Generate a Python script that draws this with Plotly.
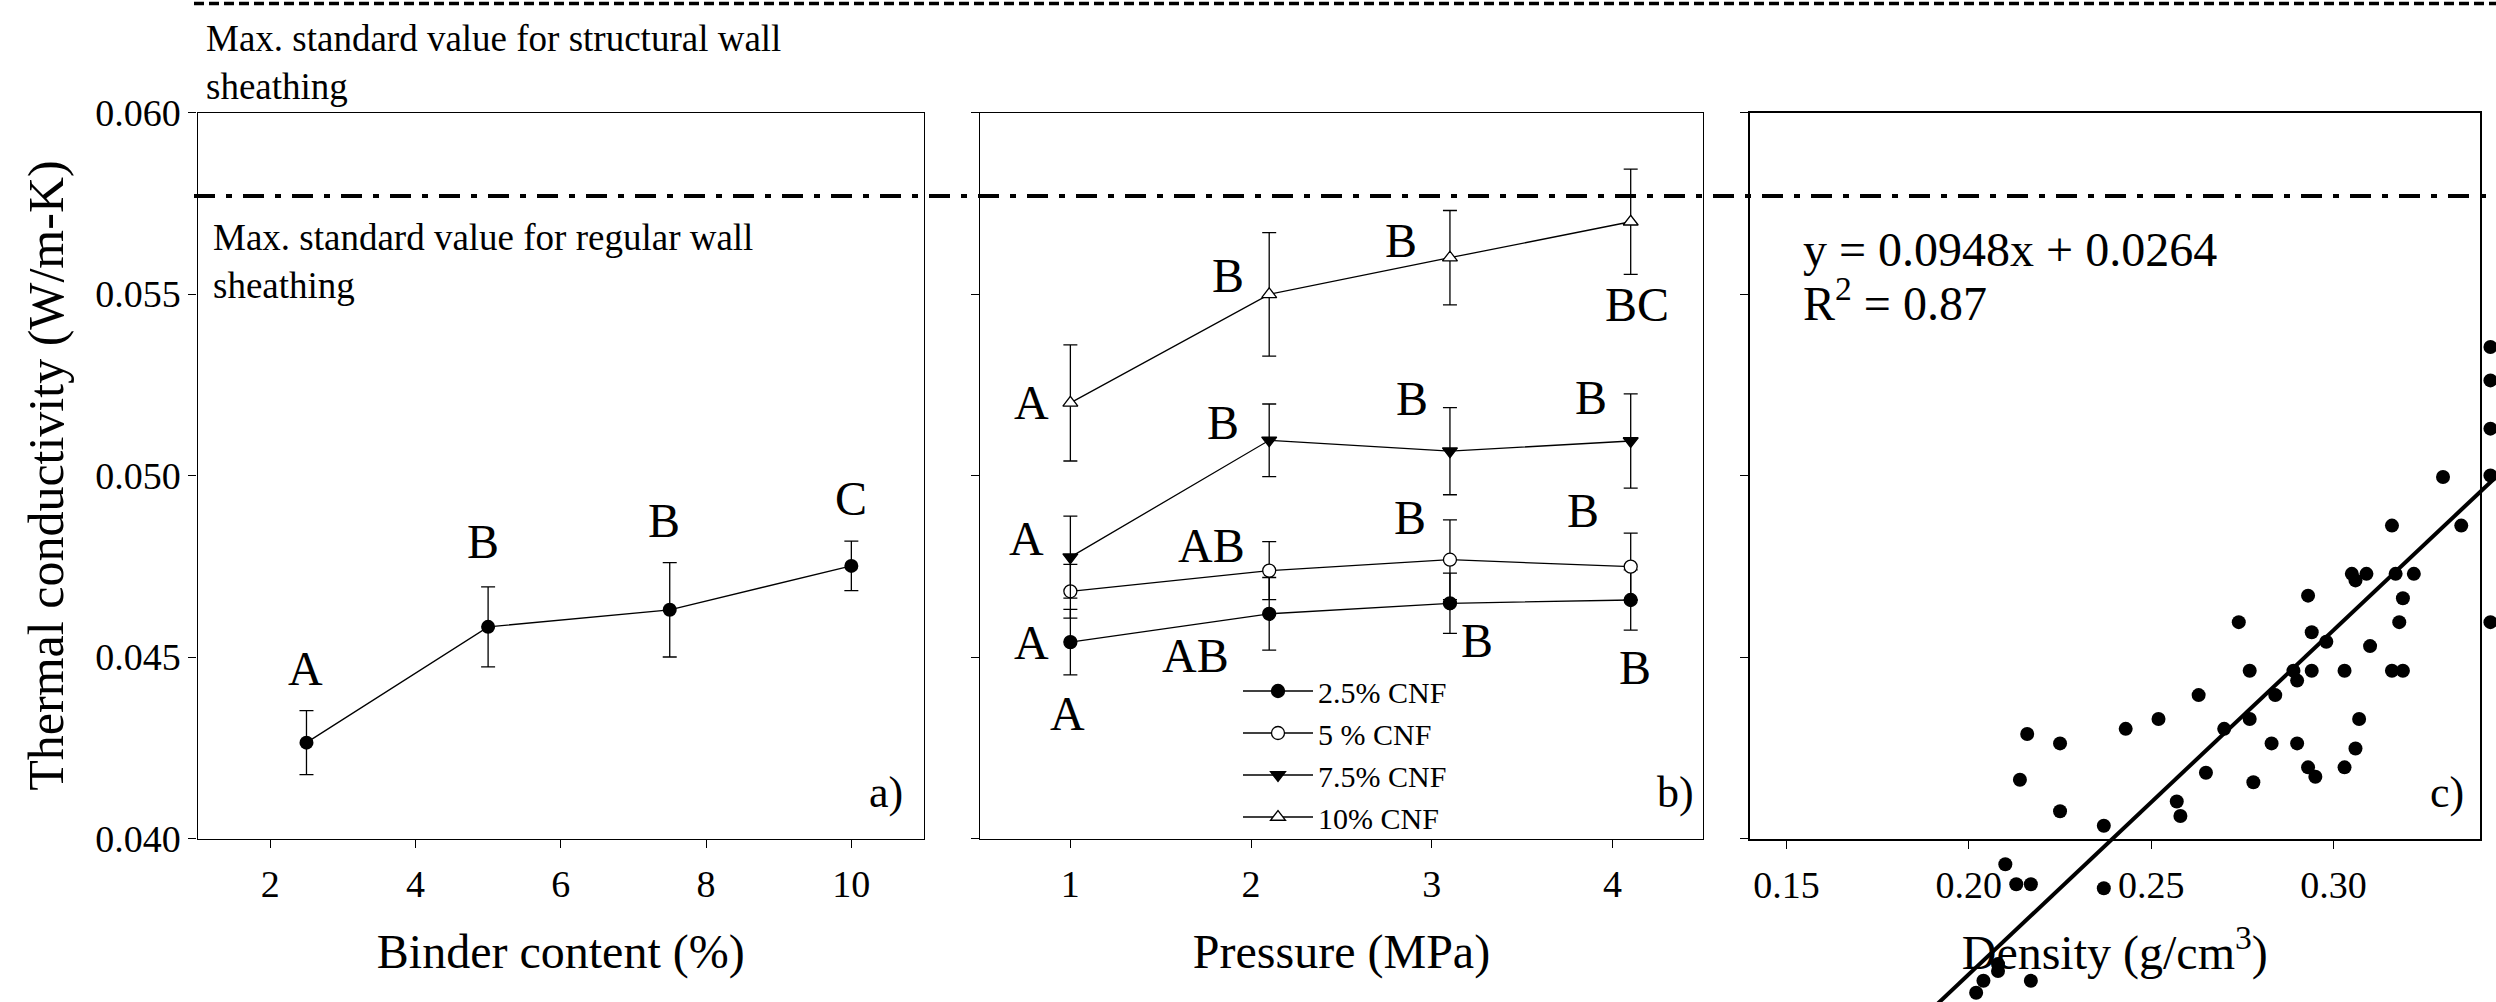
import plotly.graph_objects as go

# ---------------- data ----------------
binder_pct = [2.5, 5, 7.5, 10]
tc_binder = [0.04264, 0.04583, 0.04630, 0.04751]
tc_binder_err = [0.00088, 0.00110, 0.00130, 0.00068]
binder_letters = ["A", "B", "B", "C"]

pressure = [1, 2.1, 3.1, 4.1]
series_names = ["2.5% CNF", "5 % CNF", "7.5% CNF", "10% CNF"]
tc_cnf25 = [0.04541, 0.04619, 0.04648, 0.04657]
tc_cnf25_err = [0.00090, 0.00100, 0.00083, 0.00083]
tc_cnf5 = [0.04681, 0.04738, 0.04768, 0.04749]
tc_cnf5_err = [0.00074, 0.00080, 0.00110, 0.00092]
tc_cnf75 = [0.04775, 0.05097, 0.05067, 0.05095]
tc_cnf75_err = [0.00113, 0.00100, 0.00120, 0.00130]
tc_cnf10 = [0.05200, 0.05499, 0.05600, 0.05699]
tc_cnf10_err = [0.00160, 0.00170, 0.00130, 0.00145]
pressure_letters = ["A", "B", "B", "BC",     # 10%
                    "A", "B", "B", "B",      # 7.5%
                    "AB", "B", "B",          # 5%
                    "A", "AB", "B", "B", "A"]  # 2.5% / 5%

density = [0.316, 0.335, 0.305, 0.306, 0.309, 0.317, 0.322, 0.293, 0.319, 0.274,
           0.318, 0.343, 0.294, 0.298, 0.310, 0.277, 0.289, 0.294, 0.303, 0.316,
           0.319, 0.290, 0.263, 0.284, 0.252, 0.277, 0.307, 0.243, 0.270, 0.216,
           0.225, 0.283, 0.290, 0.306, 0.293, 0.303, 0.265, 0.295, 0.214, 0.278,
           0.257, 0.225, 0.258, 0.237, 0.210, 0.213, 0.217, 0.237, 0.208, 0.208,
           0.204, 0.217, 0.202, 0.330, 0.343, 0.343, 0.343, 0.343]
tc_density = [0.05772, 0.05772, 0.05639, 0.05621, 0.05639, 0.05639, 0.05639, 0.05579, 0.05572, 0.05506,
              0.05506, 0.05506, 0.05478, 0.05452, 0.05440, 0.05372, 0.05372, 0.05372, 0.05372, 0.05372,
              0.05372, 0.05345, 0.05305, 0.05305, 0.05239, 0.05239, 0.05239, 0.05212, 0.05212, 0.05198,
              0.05172, 0.05172, 0.05172, 0.05158, 0.05106, 0.05106, 0.05091, 0.05080, 0.05072, 0.05065,
              0.05012, 0.04985, 0.04972, 0.04945, 0.04839, 0.04784, 0.04784, 0.04773, 0.04564, 0.04545,
              0.04518, 0.04518, 0.04485, 0.05906, 0.06264, 0.06172, 0.06039, 0.05910]
fit_slope = 0.0948
fit_intercept = 0.0264
fit_r2 = 0.87
fit_x = [0.17, 0.37]

std_structural = 0.0630
std_regular = 0.0577

# ---------------- layout helpers ----------------
W, H = 2496, 1002
FONT = "Liberation Serif"


def fx(p):
    return p / W


def fy(p):
    return 1 - p / H


Y_DOM = [fy(838.5), fy(112.5)]
A_DOM = [fx(197.5), fx(924)]
B_DOM = [fx(980), fx(1703)]
C_DOM = [fx(1750), fx(2479.5)]
Y_RANGE = [0.040, 0.060]
C_OFFSET = 0.0091
C_YRANGE = [Y_RANGE[0] + C_OFFSET, Y_RANGE[1] + C_OFFSET]
C_XRANGE = [0.14, 0.34]


def extend(rng, dom):
    k = (rng[1] - rng[0]) / (dom[1] - dom[0])
    return [rng[0] - dom[0] * k, rng[1] + (1 - dom[1]) * k]


fit_y = [fit_slope * v + fit_intercept for v in fit_x]

fig = go.Figure()

err_style = dict(type="data", visible=True, color="black", thickness=1.3, width=7)

fig.add_trace(go.Scatter(
    x=binder_pct, y=tc_binder, mode="lines+markers",
    line=dict(color="black", width=1.3),
    marker=dict(symbol="circle", size=14, color="black"),
    error_y=dict(array=tc_binder_err, **err_style),
    showlegend=False, xaxis="x", yaxis="y"))

series = [
    (series_names[0], tc_cnf25, tc_cnf25_err, "circle", "black"),
    (series_names[1], tc_cnf5, tc_cnf5_err, "circle", "white"),
    (series_names[2], tc_cnf75, tc_cnf75_err, "triangle-down", "black"),
    (series_names[3], tc_cnf10, tc_cnf10_err, "triangle-up", "white"),
]
for name, ys, es, sym, fill in series:
    fig.add_trace(go.Scatter(
        x=pressure, y=ys, mode="lines+markers", name=name,
        line=dict(color="black", width=1.3),
        marker=dict(symbol=sym, size=13, color=fill, line=dict(color="black", width=1.3)),
        error_y=dict(array=es, **err_style),
        xaxis="x2", yaxis="y2"))

# empty trace so that the panel c frame exists
fig.add_trace(go.Scatter(x=[], y=[], xaxis="x3", yaxis="y3", showlegend=False, hoverinfo="skip"))

fig.add_trace(go.Scatter(
    x=density, y=tc_density, mode="markers",
    marker=dict(symbol="circle", size=14, color="black"),
    showlegend=False, xaxis="x4", yaxis="y4"))
fig.add_trace(go.Scatter(
    x=fit_x, y=fit_y, mode="lines", line=dict(color="black", width=4),
    showlegend=False, xaxis="x4", yaxis="y4"))

common = dict(showline=True, linecolor="black", mirror=True, showgrid=False,
              zeroline=False, ticks="outside", ticklen=8, tickcolor="black", automargin=False,
              tickfont=dict(family=FONT, size=38, color="black"))
title_font = dict(family=FONT, size=48, color="black")
ytickvals = [0.040, 0.045, 0.050, 0.055, 0.060]

fig.update_layout(
    template="none",
    width=W, height=H, margin=dict(l=0, r=0, t=0, b=0, pad=0, autoexpand=False),
    paper_bgcolor="white", plot_bgcolor="rgba(0,0,0,0)",
    font=dict(family=FONT, color="black"),
    xaxis=dict(domain=A_DOM, range=[1, 11], anchor="y", tickvals=[2, 4, 6, 8, 10],
               linewidth=1.3, ticklabelstandoff=4,
               title=dict(text="Binder content (%)", font=title_font, standoff=30),
               **common),
    yaxis=dict(domain=Y_DOM, range=Y_RANGE, anchor="x", tickvals=ytickvals, tickformat=".3f",
               linewidth=1.3,
               title=dict(text="Thermal conductivity (W/m-K)",
                          font=dict(family=FONT, size=50, color="black"), standoff=15),
               **common),
    xaxis2=dict(domain=B_DOM, range=[0.5, 4.5], anchor="y2", tickvals=[1, 2, 3, 4],
                linewidth=1.3, ticklabelstandoff=4,
                title=dict(text="Pressure (MPa)", font=title_font, standoff=30),
                **common),
    yaxis2=dict(domain=Y_DOM, range=Y_RANGE, anchor="x2", tickvals=ytickvals,
                showticklabels=False, linewidth=1.3, **common),
    xaxis3=dict(domain=C_DOM, range=C_XRANGE, anchor="y3", tickvals=[0.15, 0.20, 0.25, 0.30],
                tickformat=".2f", linewidth=2.2, ticklabelstandoff=4,
                title=dict(text="Density (g/cm<sup>3</sup>)", font=title_font, standoff=30),
                **common),
    yaxis3=dict(domain=Y_DOM, range=C_YRANGE, anchor="x3",
                tickvals=[v + C_OFFSET for v in ytickvals],
                showticklabels=False, linewidth=2.2, **common),
    xaxis4=dict(domain=[0, 1], range=extend(C_XRANGE, C_DOM), anchor="y4", visible=False,
                automargin=False),
    yaxis4=dict(domain=[0, 1], range=extend(C_YRANGE, Y_DOM), anchor="x4", visible=False,
                automargin=False),
    yaxis5=dict(domain=[0, 1], range=extend(Y_RANGE, Y_DOM), anchor="x4",
                overlaying="y4", visible=False, automargin=False),
    legend=dict(x=fx(1238), y=fy(665), xanchor="left", yanchor="top", itemwidth=70,
                bgcolor="rgba(0,0,0,0)", font=dict(family=FONT, size=30, color="black"),
                tracegroupgap=0),
)

# reference lines
fig.add_shape(type="line", xref="paper", yref="y5", x0=fx(194), x1=1,
              y0=std_structural, y1=std_structural,
              line=dict(color="black", width=3.5, dash="10px,5px"))
fig.add_shape(type="line", xref="paper", yref="y5", x0=fx(194), x1=1,
              y0=std_regular, y1=std_regular,
              line=dict(color="black", width=4, dash="21px,11px,6px,11px"))

ann = []
txt = dict(family=FONT, size=37, color="black")
ann.append(dict(xref="paper", yref="paper", x=fx(204), y=fy(63), xanchor="left", yanchor="middle",
                align="left", text="Max. standard value for structural wall<br>sheathing",
                showarrow=False, font=txt))
ann.append(dict(xref="paper", yref="paper", x=fx(211), y=fy(261), xanchor="left", yanchor="middle",
                align="left", text="Max. standard value for regular wall<br>sheathing",
                showarrow=False, font=txt))

eq_font = dict(family=FONT, size=48, color="black")
ann.append(dict(xref="paper", yref="paper", x=fx(1801), y=fy(249), xanchor="left", yanchor="middle",
                text=f"y = {fit_slope}x + {fit_intercept}", showarrow=False, font=eq_font))
ann.append(dict(xref="paper", yref="paper", x=fx(1801), y=fy(300), xanchor="left", yanchor="middle",
                text=f"R<sup>2</sup> = {fit_r2}", showarrow=False, font=eq_font))

panel_font = dict(family=FONT, size=44, color="black")
for t, px, py in [("a)", 886, 792), ("b)", 1676, 792), ("c)", 2447, 792)]:
    ann.append(dict(xref="paper", yref="paper", x=fx(px), y=fy(py), text=t,
                    xanchor="center", yanchor="middle", showarrow=False, font=panel_font))

letter_font = dict(family=FONT, size=48, color="black")
binder_letter_pos = [(2.49, 0.04468), (4.93, 0.04818), (7.42, 0.04875), (10.0, 0.04938)]
for t, (lx, ly) in zip(binder_letters, binder_letter_pos):
    ann.append(dict(xref="x", yref="y", x=lx, y=ly, text=t, showarrow=False, font=letter_font,
                    xanchor="center", yanchor="middle"))

pressure_letter_pos = [(0.787, 0.05202), (1.874, 0.05552), (2.828, 0.05648), (4.137, 0.05472),
                       (0.758, 0.04826), (1.845, 0.05147), (2.889, 0.05212), (3.878, 0.05216),
                       (1.783, 0.04807), (2.881, 0.04885), (3.836, 0.04904),
                       (0.787, 0.04541), (1.690, 0.04504), (3.251, 0.04545), (4.123, 0.04472),
                       (0.985, 0.04343)]
for t, (lx, ly) in zip(pressure_letters, pressure_letter_pos):
    ann.append(dict(xref="x2", yref="y2", x=lx, y=ly, text=t, showarrow=False, font=letter_font,
                    xanchor="center", yanchor="middle"))

fig.update_layout(annotations=ann)

fig.write_html("out.html", config={"displayModeBar": False})
